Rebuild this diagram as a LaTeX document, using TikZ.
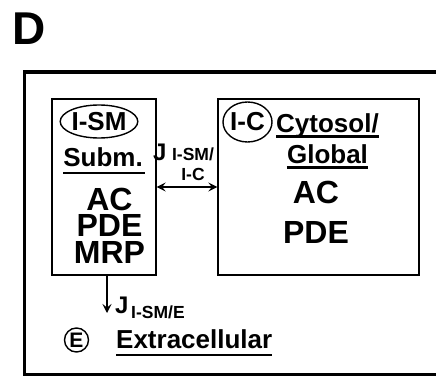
\documentclass[tikz,border=0pt]{standalone}
\usepackage{fontspec}
\setmainfont{Liberation Sans}
\usetikzlibrary{arrows.meta,shapes.geometric,calc}
\newcommand\fntBig{\bfseries\fontsize{32}{26.5}\selectfont}
\newcommand\fntLbl{\bfseries\fontsize{26}{26}\selectfont}
\newcommand\fntJ{\bfseries\fontsize{24}{24}\selectfont}
\newcommand\fntSub{\bfseries\fontsize{17.5}{20}\selectfont}
\newcommand\fntE{\bfseries\fontsize{21}{21}\selectfont}
\newcommand\fntD{\bfseries\fontsize{46}{46}\selectfont}
\begin{document}
\begin{tikzpicture}[x=1pt,y=-1pt,
  comp/.style={draw, line width=1.3pt, inner sep=0pt},
  oval/.style={draw, ellipse, line width=1.4pt, inner sep=0pt},
  txt/.style={inner sep=0pt, anchor=base},
  ul/.style={line width=2.2pt},
  arr/.style={line width=1.4pt},
  tip/.style={-{Stealth[length=9pt,width=9pt,inset=3.5pt]}},
  dtip/.style={{Stealth[length=9pt,width=9pt,inset=3.5pt]}-{Stealth[length=9pt,width=9pt,inset=3.5pt]}}
]
\useasboundingbox (0,0) rectangle (436,377);

% panel letter
\node[txt, anchor=base west, font=\fntD] (D) at (12,45) {D};

% outer frame (open on the right)
\draw[line width=3.6pt] (437,72) -- (24.6,72) -- (24.6,374.6) -- (437,374.6);

% compartments
\node[comp, minimum width=104pt, minimum height=176pt] (ism) at (104,187) {};
\node[comp, minimum width=201pt, minimum height=176pt] (ic) at (318.5,187) {};

% I-SM labels
\node[oval, minimum width=76pt, minimum height=33pt, font=\fntLbl] (ismlab) at (99,121.5) {I-SM};
\node[txt, font=\fntLbl] (subm) at (103,166) {Subm.};
\draw[ul] ([yshift=-7pt]subm.base west) -- ([yshift=-7pt,xshift=2pt]subm.base east);
\node[txt, align=center, font=\fntBig] (enz1) at (109.5,263) {AC\\PDE\\MRP};

% I-C labels
\node[oval, minimum width=49pt, minimum height=40pt, font=\fntLbl] (iclab) at (247.5,122) {I-C};
\node[txt, font=\fntLbl] (cyto) at (327.5,132) {Cytosol/};
\draw[ul] ([yshift=-4.5pt]cyto.base west) -- ([yshift=-4.5pt]cyto.base east);
\node[txt, font=\fntLbl] (glob) at (327.5,163) {Global};
\draw[ul] ([yshift=-4.5pt]glob.base west) -- ([yshift=-4.5pt]glob.base east);
\node[txt, font=\fntBig] (ac2) at (316,203) {AC};
\node[txt, font=\fntBig] (pde2) at (316,243) {PDE};

% exchange I-SM <-> I-C
\draw[arr, dtip] (ism.east) -- (ic.west);
\node[txt, anchor=base west, font=\fntJ] (j1) at (153,160) {J};
\node[txt, align=center, font=\fntSub] (j1sub) at (193,180) {I-SM/\\I-C};

% efflux to extracellular
\coordinate (etip) at (107,313);
\draw[arr, tip] ($(ism.south)+(3,0)$) -- (etip);
\node[txt, anchor=base west, font=\fntJ] (j2) at (115,313) {J};
\node[txt, anchor=base west, font=\fntSub] (j2sub) at (131,318) {I-SM/E};

% extracellular
\node[draw, circle, line width=1.4pt, inner sep=0pt, minimum size=24pt, font=\fntE] (elab) at (76.5,340) {E};
\node[txt, anchor=base west, font=\fntLbl] (extra) at (116,348) {Extracellular};
\draw[ul] ([yshift=-7pt]extra.base west) -- ([yshift=-7pt]extra.base east);
\end{tikzpicture}
\end{document}
